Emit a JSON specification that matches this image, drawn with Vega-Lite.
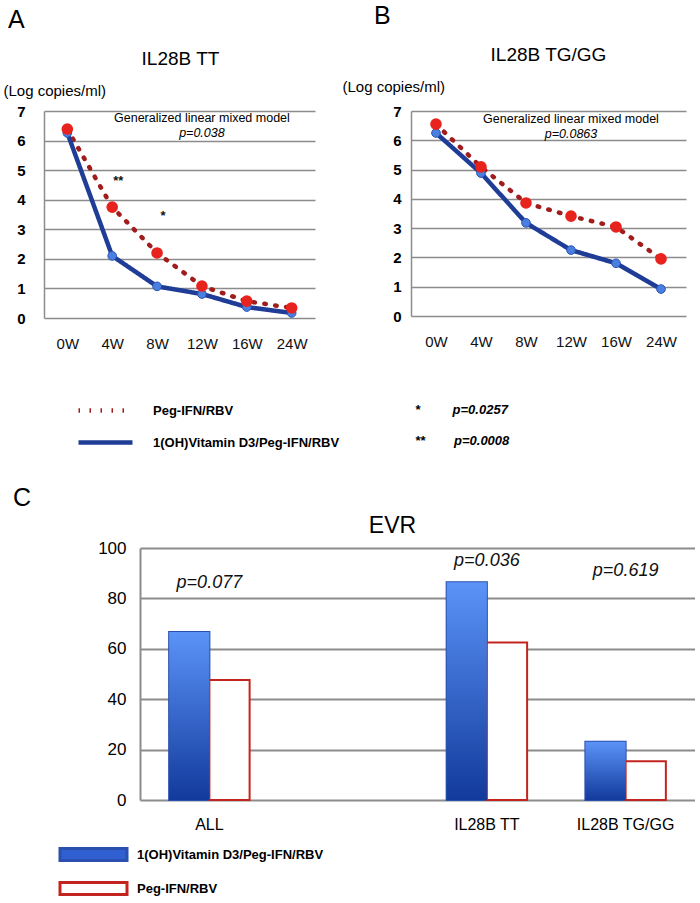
{
  "$schema": "https://vega.github.io/schema/vega-lite/v6.json",
  "padding": {"left": 3, "top": 4, "right": 0, "bottom": 0},
  "background": "white",
  "config": {
    "view": {"stroke": null},
    "font": "Liberation Sans",
    "title": {"font": "Liberation Sans", "fontWeight": "normal", "color": "#000"}
  },
  "datasets": {
    "lineA": [
      {"week": "0W", "series": "Peg-IFN/RBV", "value": 6.39},
      {"week": "4W", "series": "Peg-IFN/RBV", "value": 3.75},
      {"week": "8W", "series": "Peg-IFN/RBV", "value": 2.2},
      {"week": "12W", "series": "Peg-IFN/RBV", "value": 1.08},
      {"week": "16W", "series": "Peg-IFN/RBV", "value": 0.57},
      {"week": "24W", "series": "Peg-IFN/RBV", "value": 0.34},
      {"week": "0W", "series": "1(OH)Vitamin D3/Peg-IFN/RBV", "value": 6.26},
      {"week": "4W", "series": "1(OH)Vitamin D3/Peg-IFN/RBV", "value": 2.1},
      {"week": "8W", "series": "1(OH)Vitamin D3/Peg-IFN/RBV", "value": 1.07},
      {"week": "12W", "series": "1(OH)Vitamin D3/Peg-IFN/RBV", "value": 0.81},
      {"week": "16W", "series": "1(OH)Vitamin D3/Peg-IFN/RBV", "value": 0.37},
      {"week": "24W", "series": "1(OH)Vitamin D3/Peg-IFN/RBV", "value": 0.17}
    ],
    "lineB": [
      {"week": "0W", "series": "Peg-IFN/RBV", "value": 6.55},
      {"week": "4W", "series": "Peg-IFN/RBV", "value": 5.09},
      {"week": "8W", "series": "Peg-IFN/RBV", "value": 3.86},
      {"week": "12W", "series": "Peg-IFN/RBV", "value": 3.41},
      {"week": "16W", "series": "Peg-IFN/RBV", "value": 3.04},
      {"week": "24W", "series": "Peg-IFN/RBV", "value": 1.95},
      {"week": "0W", "series": "1(OH)Vitamin D3/Peg-IFN/RBV", "value": 6.25},
      {"week": "4W", "series": "1(OH)Vitamin D3/Peg-IFN/RBV", "value": 4.88},
      {"week": "8W", "series": "1(OH)Vitamin D3/Peg-IFN/RBV", "value": 3.18},
      {"week": "12W", "series": "1(OH)Vitamin D3/Peg-IFN/RBV", "value": 2.25},
      {"week": "16W", "series": "1(OH)Vitamin D3/Peg-IFN/RBV", "value": 1.8},
      {"week": "24W", "series": "1(OH)Vitamin D3/Peg-IFN/RBV", "value": 0.92}
    ],
    "annA": [
      {"week": "12W", "value": 6.76, "kind": "model", "label": "Generalized linear mixed model"},
      {"week": "12W", "value": 6.26, "kind": "p", "label": "p=0.038"}
    ],
    "annB": [
      {"week": "12W", "value": 6.72, "kind": "model", "label": "Generalized linear mixed model"},
      {"week": "12W", "value": 6.21, "kind": "p", "label": "p=0.0863"}
    ],
    "starsA": [
      {"week": "4W", "value": 4.62, "star": "**", "note": "*\u00a0\u00a0\u00a0\u00a0\u00a0\u00a0\u00a0\u00a0\u00a0p=0.0257"},
      {"week": "8W", "value": 3.45, "star": "*", "note": "**\u00a0\u00a0\u00a0\u00a0\u00a0\u00a0\u00a0\u00a0p=0.0008"}
    ],
    "evr": [
      {"group": "ALL", "treatment": "1(OH)Vitamin D3/Peg-IFN/RBV", "evr": 66.7},
      {"group": "ALL", "treatment": "Peg-IFN/RBV", "evr": 47.6},
      {"group": "IL28B TT", "treatment": "1(OH)Vitamin D3/Peg-IFN/RBV", "evr": 86.4},
      {"group": "IL28B TT", "treatment": "Peg-IFN/RBV", "evr": 62.5},
      {"group": "IL28B TG/GG", "treatment": "1(OH)Vitamin D3/Peg-IFN/RBV", "evr": 23.1},
      {"group": "IL28B TG/GG", "treatment": "Peg-IFN/RBV", "evr": 15.4}
    ],
    "evrP": [
      {"group": "ALL", "label": "p=0.077", "evr": 86},
      {"group": "IL28B TT", "label": "p=0.036", "evr": 95},
      {"group": "IL28B TG/GG", "label": "p=0.619", "evr": 91}
    ]
  },
  "resolve": {"scale": {"xOffset": "independent"}},
  "columns": 1,
  "align": "none",
  "spacing": 135,
  "concat": [
    {
      "spacing": 27,
      "hconcat": [
        {
          "width": 271,
          "height": 207,
          "title": {"text": "A", "anchor": "start", "frame": "bounds", "fontSize": 25, "dx": 5, "offset": 16},
          "encoding": {
            "x": {"field": "week", "type": "ordinal", "scale": {"domain": ["0W", "4W", "8W", "12W", "16W", "24W"], "padding": 0.52},
              "axis": {"ticks": false, "domain": false, "grid": false, "labelAngle": 0, "labelFont": "Liberation Sans Narrow, Liberation Sans", "labelFontSize": 15, "labelColor": "#111", "labelPadding": 18,
                "title": "IL28B TT", "titleFont": "Liberation Sans", "titleFontSize": 19, "titleFontWeight": "normal", "titleColor": "#000", "titleAlign": "center", "titleBaseline": "middle", "titleX": 136, "titleY": -260}},
            "y": {"field": "value", "type": "quantitative", "scale": {"domain": [0, 7]},
              "axis": {"values": [0, 1, 2, 3, 4, 5, 6, 7], "grid": true, "gridColor": "#8c8c8c", "gridWidth": 1.5, "domainColor": "#8c8c8c", "domainWidth": 1.5, "ticks": false, "labelFont": "Liberation Sans", "labelFontSize": 15, "labelFontWeight": "bold", "labelColor": "#000", "labelPadding": 19, "title": "(Log copies/ml)", "titleAngle": 0, "titleAlign": "left", "titleBaseline": "middle", "titleX": -41, "titleY": -21, "titleFontSize": 15, "titleFontWeight": "normal", "titleColor": "#000", "titleFont": "Liberation Sans"}}
          },
          "layer": [
            {
              "data": {"name": "lineA"},
              "mark": {"type": "line", "strokeWidth": 4.5, "strokeCap": "round", "strokeJoin": "round"},
              "encoding": {
                "color": {"field": "series", "type": "nominal", "scale": {"domain": ["Peg-IFN/RBV", "1(OH)Vitamin D3/Peg-IFN/RBV"], "range": ["#a11d1d", "#1f3c97"]},
                  "legend": {"orient": "none", "legendX": 41, "legendY": 279, "title": null, "symbolType": "M-1.5,0H1.5", "symbolSize": 1296, "symbolStrokeWidth": 4.5, "labelFont": "Liberation Sans", "labelFontSize": 13, "labelFontWeight": "bold", "labelColor": "#000", "labelOffset": 27, "rowPadding": 2, "labelLimit": 400,
                    "labelExpr": "datum.label === 'Peg-IFN/RBV' ? '\u00a0\u00a0\u00a0\u00a0\u00a0\u00a0Peg-IFN/RBV' : datum.label"}},
                "strokeDash": {"field": "series", "type": "nominal", "scale": {"domain": ["Peg-IFN/RBV", "1(OH)Vitamin D3/Peg-IFN/RBV"], "range": [[1.5, 9.5], [1, 0]]},
                  "legend": {"orient": "none", "legendX": 41, "legendY": 279, "title": null, "symbolType": "M-1.5,0H1.5", "symbolSize": 1296, "symbolStrokeWidth": 4.5, "labelFont": "Liberation Sans", "labelFontSize": 13, "labelFontWeight": "bold", "labelColor": "#000", "labelOffset": 27, "rowPadding": 2, "labelLimit": 400,
                    "labelExpr": "datum.label === 'Peg-IFN/RBV' ? '\u00a0\u00a0\u00a0\u00a0\u00a0\u00a0Peg-IFN/RBV' : datum.label"}}
              }
            },
            {
              "data": {"name": "lineA"},
              "transform": [{"filter": "datum.series !== 'Peg-IFN/RBV'"}],
              "mark": {"type": "circle", "size": 75, "fill": "#4a7fe0", "stroke": "#2a55b8", "strokeWidth": 1, "opacity": 1},
              "encoding": {}
            },
            {
              "data": {"name": "lineA"},
              "transform": [{"filter": "datum.series === 'Peg-IFN/RBV'"}],
              "mark": {"type": "circle", "size": 135, "fill": "#e8221c", "opacity": 1},
              "encoding": {}
            },
            {
              "data": {"name": "annA"},
              "transform": [{"filter": "datum.kind === 'model'"}],
              "mark": {"type": "text", "fontSize": 12.5, "font": "Liberation Sans", "color": "#000", "baseline": "middle"},
              "encoding": {"text": {"field": "label"}}
            },
            {
              "data": {"name": "annA"},
              "transform": [{"filter": "datum.kind === 'p'"}],
              "mark": {"type": "text", "fontSize": 12.5, "font": "Liberation Sans", "fontStyle": "italic", "color": "#000", "baseline": "middle"},
              "encoding": {"text": {"field": "label"}}
            },
            {
              "data": {"name": "starsA"},
              "mark": {"type": "text", "fontSize": 13, "font": "Liberation Sans", "fontWeight": "bold", "color": "#111", "baseline": "middle", "dx": 6},
              "encoding": {
                "text": {"field": "star"},
                "opacity": {"field": "note", "type": "nominal", "scale": {"domain": ["*\u00a0\u00a0\u00a0\u00a0\u00a0\u00a0\u00a0\u00a0\u00a0p=0.0257", "**\u00a0\u00a0\u00a0\u00a0\u00a0\u00a0\u00a0\u00a0p=0.0008"], "range": [1, 1]},
                  "legend": {"orient": "none", "legendX": 358, "legendY": 292, "title": null, "symbolSize": 0, "symbolStrokeWidth": 0, "symbolOpacity": 0, "labelOffset": 0, "labelFont": "Liberation Sans", "labelFontSize": 13, "labelFontWeight": "bold", "labelFontStyle": "italic", "labelColor": "#000", "rowPadding": 17, "labelLimit": 300}}
              }
            }
          ]
        },
        {
          "width": 275,
          "height": 205,
          "title": {"text": "B", "anchor": "start", "frame": "bounds", "fontSize": 25, "dx": 32, "offset": 16},
          "encoding": {
            "x": {"field": "week", "type": "ordinal", "scale": {"domain": ["0W", "4W", "8W", "12W", "16W", "24W"], "padding": 0.555},
              "axis": {"ticks": false, "domain": false, "grid": false, "labelAngle": 0, "labelFont": "Liberation Sans Narrow, Liberation Sans", "labelFontSize": 15, "labelColor": "#111", "labelPadding": 18,
                "title": "IL28B TG/GG", "titleFont": "Liberation Sans", "titleFontSize": 19, "titleFontWeight": "normal", "titleColor": "#000", "titleAlign": "center", "titleBaseline": "middle", "titleX": 137, "titleY": -262}},
            "y": {"field": "value", "type": "quantitative", "scale": {"domain": [0, 7]},
              "axis": {"values": [0, 1, 2, 3, 4, 5, 6, 7], "grid": true, "gridColor": "#8c8c8c", "gridWidth": 1.5, "domainColor": "#8c8c8c", "domainWidth": 1.5, "ticks": false, "labelFont": "Liberation Sans", "labelFontSize": 15, "labelFontWeight": "bold", "labelColor": "#000", "labelPadding": 10, "title": "(Log copies/ml)", "titleAngle": 0, "titleAlign": "left", "titleBaseline": "middle", "titleX": -69, "titleY": -25, "titleFontSize": 15, "titleFontWeight": "normal", "titleColor": "#000", "titleFont": "Liberation Sans"}}
          },
          "layer": [
            {
              "data": {"name": "lineB"},
              "mark": {"type": "line", "strokeWidth": 4.5, "strokeCap": "round", "strokeJoin": "round"},
              "encoding": {
                "color": {"field": "series", "type": "nominal"},
                "strokeDash": {"field": "series", "type": "nominal"}
              }
            },
            {
              "data": {"name": "lineB"},
              "transform": [{"filter": "datum.series !== 'Peg-IFN/RBV'"}],
              "mark": {"type": "circle", "size": 75, "fill": "#4a7fe0", "stroke": "#2a55b8", "strokeWidth": 1, "opacity": 1},
              "encoding": {}
            },
            {
              "data": {"name": "lineB"},
              "transform": [{"filter": "datum.series === 'Peg-IFN/RBV'"}],
              "mark": {"type": "circle", "size": 135, "fill": "#e8221c", "opacity": 1},
              "encoding": {}
            },
            {
              "data": {"name": "annB"},
              "transform": [{"filter": "datum.kind === 'model'"}],
              "mark": {"type": "text", "fontSize": 12.5, "font": "Liberation Sans", "color": "#000", "baseline": "middle"},
              "encoding": {"text": {"field": "label"}}
            },
            {
              "data": {"name": "annB"},
              "transform": [{"filter": "datum.kind === 'p'"}],
              "mark": {"type": "text", "fontSize": 12.5, "font": "Liberation Sans", "fontStyle": "italic", "color": "#000", "baseline": "middle"},
              "encoding": {"text": {"field": "label"}}
            }
          ]
        }
      ]
    },
    {
      "spacing": 40,
      "resolve": {"scale": {"xOffset": "independent"}},
      "hconcat": [
        {
          "width": 1,
          "height": 1,
          "title": {"text": "C", "anchor": "start", "frame": "bounds", "fontSize": 25, "dx": -31, "offset": 37},
          "data": {"values": []},
          "mark": {"type": "point", "opacity": 0},
          "encoding": {}
        },
        {
          "width": 555,
          "height": 252,
          "encoding": {
            "x": {"field": "group", "type": "nominal", "scale": {"domain": ["ALL", "", "IL28B TT", "IL28B TG/GG"], "paddingInner": 0.42, "paddingOuter": 0.21},
              "axis": {"ticks": false, "domain": false, "grid": false, "labelAngle": 0, "labelFont": "Liberation Sans Narrow, Liberation Sans", "labelFontSize": 16, "labelColor": "#000", "labelPadding": 16,
                "title": "EVR", "titleFont": "Liberation Sans", "titleFontSize": 23, "titleFontWeight": "normal", "titleColor": "#000", "titleAlign": "center", "titleBaseline": "middle", "titleX": 252, "titleY": -275}},
            "y": {"field": "evr", "type": "quantitative", "scale": {"domain": [0, 100]},
              "axis": {"values": [0, 20, 40, 60, 80, 100], "grid": true, "gridColor": "#8c8c8c", "gridWidth": 2, "domainColor": "#8c8c8c", "domainWidth": 2, "ticks": false, "labelFont": "Liberation Sans Narrow, Liberation Sans", "labelFontSize": 17, "labelColor": "#000", "labelPadding": 14, "minExtent": 55, "title": null}}
          },
          "layer": [
            {
              "data": {"name": "evr"},
              "mark": {"type": "bar", "strokeWidth": 2},
              "encoding": {
                "xOffset": {"field": "treatment", "type": "nominal", "scale": {"domain": ["1(OH)Vitamin D3/Peg-IFN/RBV", "Peg-IFN/RBV"]}},
                "fill": {"field": "treatment", "type": "nominal", "scale": {"domain": ["1(OH)Vitamin D3/Peg-IFN/RBV", "Peg-IFN/RBV"], "range": ["#2f5fd0", "#ffffff"]},
                  "legend": {"orient": "none", "legendX": 28, "legendY": 722, "title": null, "symbolType": "M-1.7,-0.3H1.7V0.3H-1.7Z", "symbolSize": 1553, "symbolStrokeWidth": 3, "labelFont": "Liberation Sans", "labelFontSize": 13, "labelFontWeight": "bold", "labelColor": "#000", "labelOffset": 22, "rowPadding": 0, "labelLimit": 400,
                    "labelExpr": "datum.label === 'Peg-IFN/RBV' ? '\u00a0\u00a0\u00a0\u00a0\u00a0\u00a0\u00a0Peg-IFN/RBV' : datum.label"}},
                "stroke": {"field": "treatment", "type": "nominal", "scale": {"domain": ["1(OH)Vitamin D3/Peg-IFN/RBV", "Peg-IFN/RBV"], "range": ["#2a4fae", "#c42420"]},
                  "legend": {"orient": "none", "legendX": 28, "legendY": 722, "title": null, "symbolType": "M-1.7,-0.3H1.7V0.3H-1.7Z", "symbolSize": 1553, "symbolStrokeWidth": 3, "labelFont": "Liberation Sans", "labelFontSize": 13, "labelFontWeight": "bold", "labelColor": "#000", "labelOffset": 22, "rowPadding": 0, "labelLimit": 400,
                    "labelExpr": "datum.label === 'Peg-IFN/RBV' ? '\u00a0\u00a0\u00a0\u00a0\u00a0\u00a0\u00a0Peg-IFN/RBV' : datum.label"}}
              }
            },
            {
              "data": {"name": "evr"},
              "transform": [{"filter": "datum.treatment !== 'Peg-IFN/RBV'"}],
              "mark": {"type": "bar", "fill": {"gradient": "linear", "x1": 0, "y1": 0, "x2": 0, "y2": 1, "stops": [{"offset": 0, "color": "#5b93f7"}, {"offset": 1, "color": "#123a9c"}]}},
              "encoding": {
                "xOffset": {"field": "treatment", "type": "nominal"}
              }
            },
            {
              "data": {"name": "evrP"},
              "mark": {"type": "text", "fontSize": 18, "font": "Liberation Sans Narrow, Liberation Sans", "fontStyle": "italic", "color": "#111", "baseline": "middle"},
              "encoding": {"text": {"field": "label"}}
            }
          ]
        }
      ]
    }
  ]
}
